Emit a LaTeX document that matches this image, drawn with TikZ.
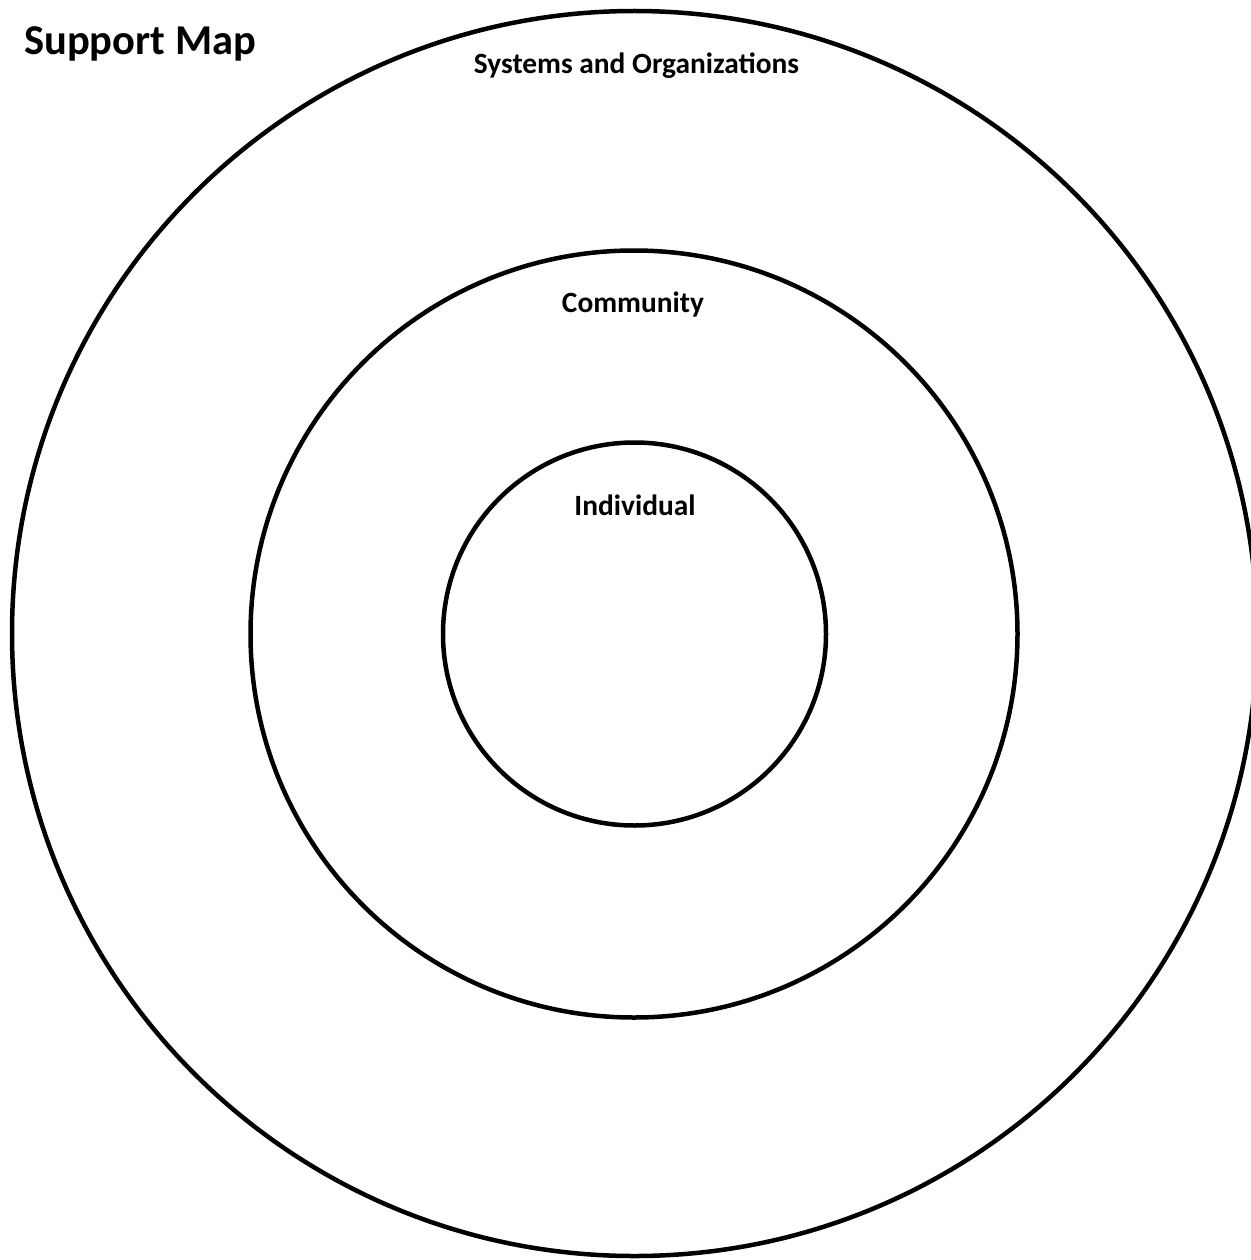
\documentclass[tikz,border=0pt]{standalone}
\usepackage{fontspec}
\setmainfont{Carlito}
\begin{document}
\begin{tikzpicture}[x=1pt,y=-1pt,
  ring/.style={draw=black,line width=4.5pt},
  lbl/.style={inner sep=0pt,anchor=base,font=\bfseries\fontsize{29.4}{31}\selectfont},
  ttl/.style={inner sep=0pt,anchor=base west,font=\bfseries\fontsize{42.5}{45}\selectfont}]
\useasboundingbox[fill=white] (0,0) rectangle (1250,1260);
\coordinate (c) at (634.5,633.5);
\draw[ring] (c) circle[radius=622.5];
\draw[ring] (634,634) circle[radius=383.5];
\draw[ring] (634.5,634) circle[radius=191.5];
\node[ttl] (title) at (24,55) {Support Map};
\node[lbl] (sys) at (636.5,74) {Systems and Organizations};
\node[lbl] (com) at (633,312) {Community};
\node[lbl] (ind) at (635,515) {Individual};
\end{tikzpicture}
\end{document}
